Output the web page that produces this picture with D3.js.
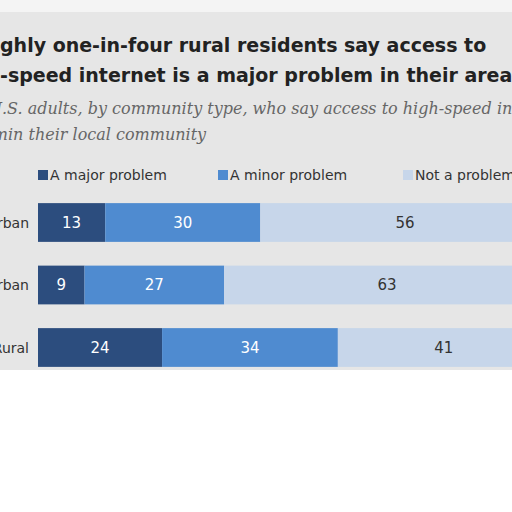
<!DOCTYPE html>
<html><head><meta charset="utf-8">
<script src="https://cdn.jsdelivr.net/npm/d3@7"></script>
<style>body{margin:0;background:#fff}</style>
</head><body>
<script>
const categories = ['Urban', 'Suburban', 'Rural'];
const seriesNames = ['A major problem', 'A minor problem', 'Not a problem'];
const major = [13, 9, 24];
const minor = [30, 27, 34];
const notProblem = [56, 63, 41];

const colors = ['#2c4d7e', '#4f8bd0', '#c7d6ea'];
const textColors = ['#fff', '#fff', '#333'];

const svg = d3.select('body').append('svg').attr('width', 512).attr('height', 512);

// grey card behind the chart
svg.append('rect').attr('x', 0).attr('y', 10).attr('width', 512).attr('height', 360).attr('fill', '#e6e6e6');
svg.append('rect').attr('x', 0).attr('y', 0).attr('width', 512).attr('height', 12).attr('fill', '#f4f4f4');

// title, split so the left crop lands like the reference
function split(y, pre, rest, x, style) {
  const a = svg.append('text').attr('x', x).attr('y', y).attr('text-anchor', 'end').text(pre);
  const b = svg.append('text').attr('x', x).attr('y', y).text(rest);
  [a, b].forEach(t => style(t));
}
const titleStyle = t => t.attr('font-family', 'DejaVu Sans').attr('font-weight', 'bold')
  .attr('font-size', 19).attr('fill', '#222');
split(52, 'Rou', 'ghly one-in-four rural residents say access to', 0, titleStyle);
split(82, 'high', '-speed internet is a major problem in their area', 0, titleStyle);

const subStyle = t => t.attr('font-family', 'DejaVu Serif').attr('font-style', 'italic')
  .attr('font-size', 16).attr('fill', '#666');
split(114, '% of U', '.S. adults, by community type, who say access to high-speed internet is', 2, subStyle);
split(140, 'a problem ', 'in their local community', 8, subStyle);

// scales
const x = d3.scaleLinear().domain([0, 100]).range([38, 555]);
const y = d3.scaleBand().domain(categories).range([200, 370]).paddingInner(0.38).paddingOuter(0.05);

// legend
const legendX = [38, 218, 403];
seriesNames.forEach((s, i) => {
  svg.append('rect').attr('x', legendX[i]).attr('y', 170).attr('width', 10).attr('height', 10).attr('fill', colors[i]);
  svg.append('text').attr('x', legendX[i] + 12).attr('y', 180).text(s)
    .attr('font-family', 'DejaVu Sans').attr('font-size', 14).attr('fill', '#333');
});

const rows = categories.map((c, i) => ({ cat: c, vals: [major[i], minor[i], notProblem[i]] }));
rows.forEach(r => {
  let acc = 0;
  r.vals.forEach((v, i) => {
    const x0 = x(acc), x1 = x(acc + v);
    svg.append('rect').attr('x', x0).attr('y', y(r.cat)).attr('width', x1 - x0)
      .attr('height', y.bandwidth()).attr('fill', colors[i]);
    svg.append('text').attr('x', (x0 + x1) / 2).attr('y', y(r.cat) + y.bandwidth() / 2 + 5)
      .attr('text-anchor', 'middle').attr('font-family', 'DejaVu Sans').attr('font-size', 15)
      .attr('fill', textColors[i]).text(v);
    acc += v;
  });
  svg.append('text').attr('x', 29).attr('y', y(r.cat) + y.bandwidth() / 2 + 5)
    .attr('text-anchor', 'end').attr('font-family', 'DejaVu Sans').attr('font-size', 14)
    .attr('fill', '#333').text(r.cat);
});
</script>
</body></html>
